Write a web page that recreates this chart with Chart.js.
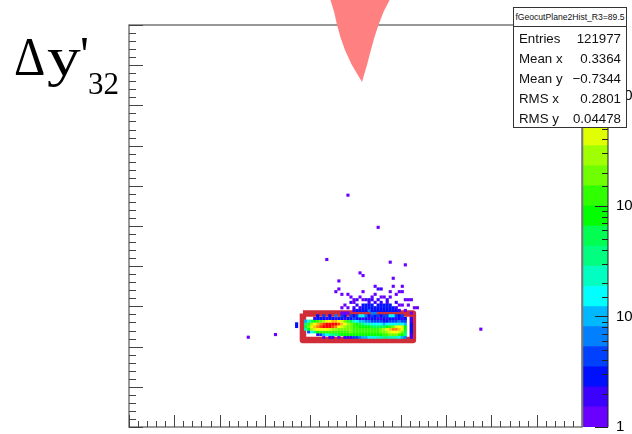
<!DOCTYPE html>
<html><head><meta charset="utf-8">
<script src="https://cdn.jsdelivr.net/npm/chart.js@4"></script>
<style>
html,body{margin:0;padding:0;background:#fff;width:632px;height:434px;overflow:hidden}
canvas{position:absolute;left:0;top:0}
.t{position:absolute;font-family:"Liberation Serif",serif;color:#000;line-height:1;white-space:pre}
#stats{position:absolute;left:513px;top:7px;width:112px;height:119px;background:#fff;border:1px solid #333;font-family:"Liberation Sans",sans-serif;color:#111}
#stats .h{height:18px;line-height:18px;border-bottom:1px solid #333;text-align:center;font-size:8.6px;white-space:nowrap}
#stats .r{position:absolute;left:5px;right:5px;height:20px;line-height:20px;font-size:13.3px;display:flex;justify-content:space-between}
</style></head><body>
<canvas id="main" width="632" height="434"></canvas>
<canvas id="bar" width="632" height="434"></canvas>
<span class="t" style="left:14px;top:30px;font-size:54px;transform:scaleX(.9);transform-origin:left">Δ</span>
<span class="t" style="left:47px;top:30px;font-size:54px;transform:scaleX(1.25);transform-origin:left">y</span>
<span class="t" style="left:80px;top:29px;font-size:50px">'</span>
<span class="t" style="left:88px;top:68px;font-size:31px">32</span>
<div id="stats"><div class="h">fGeocutPlane2Hist_R3=89.5</div>
<div class="r" style="top:21px"><span>Entries</span><span>121977</span></div>
<div class="r" style="top:41px"><span>Mean x</span><span>0.3364</span></div>
<div class="r" style="top:61px"><span>Mean y</span><span>−0.7344</span></div>
<div class="r" style="top:81px"><span>RMS x</span><span>0.2801</span></div>
<div class="r" style="top:101px"><span>RMS y</span><span>0.04478</span></div>
</div>
<script>
// Colour levels of the palette, bottom to top
const levelColors=['#6a00ff','#3c00ff','#0010ff','#0040ff','#0080ff','#00b8ff','#00ffff','#00ffc0','#00ff80','#00ff50','#00ff00','#30ff00','#70ff00','#a0ff00','#e0ff00','#ffff00','#ffc000','#ff8000','#ff4000','#ff0000'];
const levelEdges=[1,1.52,2.31,3.51,5.34,8.11,12.3,18.7,28.5,43.3,65.8,100,152,231,351,534,811,1233,1874,2849,4330];

// Dense core: histogram levels per row, columns start at bin 58 (-1 = empty)
const firstColumn=58;
const row41=[-1,-1,-1,-1,2,-1,3,-1,2,-1,4,-1,3,2,-1,3,2,3,6,6,4,2,3,2,3,2,3,3,6,6,3,2,3,-1,-1,-1];
const row40=[-1,-1,-1,1,2,2,2,1,2,2,1,2,2,1,2,2,3,2,2,1,2,1,2,2,1,1,2,1,2,2,1,2,1,2,-1,1];
const row39=[5,7,9,10,11,12,13,14,15,16,16,15,14,12,11,9,7,6,5,5,4,4,3,3,3,3,2,2,3,3,3,4,3,3,-1,1];
const row38=[8,11,13,15,16,17,18,19,19,19,19,18,16,15,13,12,11,10,9,8,7,7,6,6,6,6,5,6,6,6,6,7,6,5,-1,2];
const row37=[9,12,14,16,17,18,19,19,19,18,17,15,14,13,12,12,11,11,10,10,10,10,9,9,9,9,9,10,11,12,14,15,14,10,-1,2];
const row36=[7,10,13,14,15,15,15,15,14,13,13,12,12,12,12,12,11,11,11,11,11,11,11,11,11,12,13,14,16,17,17,16,14,10,-1,2];
const row35=[-1,3,6,8,10,11,11,11,11,11,11,11,11,11,11,12,11,11,11,11,11,11,11,11,11,12,12,13,14,15,15,14,12,9,-1,2];
const row34=[-1,-1,-1,-1,1,3,5,6,7,8,8,9,10,10,10,10,10,10,10,10,10,10,10,10,10,10,11,11,12,12,12,11,10,8,-1,1];
const row33=[-1,-1,-1,-1,-1,-1,0,-1,1,1,-1,0,-1,1,1,1,3,3,4,5,5,6,6,6,7,7,8,8,7,7,7,6,5,4,-1,1];
const coreRows=[[33,row33],[34,row34],[35,row35],[36,row36],[37,row37],[38,row38],[39,row39],[40,row40],[41,row41]];

// Sparse bins above and around the core: [bin x, bin y]
const purpleBins=[[72,86],[82,74],[65,62],[86,61],[91,60],[76,57],[77,56],[87,55],[69,54],[81,52],[87,52],[90,52],[69,51],[90,50],[86,50],[77,50],[68,50],[70,49],[72,49],[89,50],[88,49],[81,49],[73,48],[76,48],[80,48],[83,48],[84,48],[86,48],[93,47],[91,47],[92,47],[74,47],[77,47],[116,36],[39,33],[48,34],[74,46],[71,45],[70,44],[92,45],[94,44],[95,44],[89,45],[90,45],[72,44],[91,43],[70,42],[71,42],[72,42],[93,42]];
const indigoBins=[[82,51],[83,51],[75,47],[78,47],[79,47],[80,47],[82,47],[85,47],[85,46],[73,46],[79,46],[81,46],[83,46],[75,45],[76,44],[74,44],[74,43],[88,46],[88,44],[89,43]];
const blueBins=[[55,37],[55,38],[77,45],[78,45],[79,45],[80,45],[82,45],[83,45],[84,45],[85,45],[86,45],[77,44],[78,44],[79,44],[80,44],[81,44],[82,44],[83,44],[84,44],[85,44],[86,44],[87,44],[75,43],[76,43],[77,43],[78,43],[80,43],[81,43],[82,43],[83,43],[84,43],[85,43],[86,43],[87,43],[88,43]];
const azureBins=[[79,43],[80,42],[81,42]];

// Red frame around the core, bin coordinates
const frameX=[57.6,94.0,94.0,57.6,57.6];
const frameY=[42.35,42.35,32.46,32.46,42.35];
// Pink wedge at the top, bin coordinates
const wedgeX=[66.5,67.9,68.9,70.0,71.5,73.8,77.15,78.8,80.1,81.3,82.6,84.3,86.6];
const wedgeY=[160,154.9,150,145.5,140.7,135.1,128.7,135.1,140.7,145.5,150,154.9,160];

const corePoints=[],coreLevels=[];
coreRows.forEach(([iy,vals])=>vals.forEach((v,j)=>{if(v>=0){corePoints.push({x:firstColumn+j+.5,y:iy+.5});coreLevels.push(levelColors[v]);}}));
const bins=a=>a.map(([x,y])=>({x:x+.5,y:y+.5}));
const cell={type:'scatter',pointStyle:'rect',pointRadius:2.2,pointBorderWidth:0,pointHoverRadius:2.2,showLine:false};

const insideTicks={id:'insideTicks',
 beforeDatasetsDraw(c){
  const {ctx,chartArea:a,scales:{x,y}}=c;
  ctx.save();ctx.strokeStyle='#777';ctx.lineWidth=1.5;
  ctx.strokeRect(a.left,a.top,a.right-a.left,a.bottom-a.top);
  ctx.strokeStyle='#444';ctx.lineWidth=1;
  ctx.beginPath();
  x.ticks.forEach(t=>{const p=Math.round(x.getPixelForValue(t.value))+.5;const l=t.value%15===0?12:6;ctx.moveTo(p,a.bottom);ctx.lineTo(p,a.bottom-l);});
  y.ticks.forEach(t=>{const p=Math.round(y.getPixelForValue(t.value))+.5;const l=t.value%15===0?14:7;ctx.moveTo(a.left,p);ctx.lineTo(a.left+l,p);});
  ctx.stroke();ctx.restore();
 },
 afterDatasetsDraw(c){
  const {ctx,scales:{x,y}}=c;
  ctx.save();ctx.fillStyle='#ff8080';ctx.beginPath();
  wedgeX.forEach((v,i)=>{const px=x.getPixelForValue(v),py=y.getPixelForValue(wedgeY[i]);i?ctx.lineTo(px,py):ctx.moveTo(px,py);});
  ctx.closePath();ctx.fill();ctx.restore();
 }};

new Chart(document.getElementById('main'),{
 data:{datasets:[
  {...cell,label:'purple',data:bins(purpleBins),backgroundColor:levelColors[0]},
  {...cell,label:'indigo',data:bins(indigoBins),backgroundColor:levelColors[1]},
  {...cell,label:'blue',data:bins(blueBins),backgroundColor:levelColors[2]},
  {...cell,label:'azure',data:bins(azureBins),backgroundColor:levelColors[4]},
  {...cell,label:'core',data:corePoints,backgroundColor:coreLevels},
  {type:'scatter',label:'frame',data:frameX.map((v,i)=>({x:v,y:frameY[i]})),showLine:true,pointRadius:0,borderColor:'rgba(204,22,34,0.9)',borderWidth:6.5,borderJoinStyle:'round',fill:false,tension:0}
 ]},
 options:{responsive:false,animation:false,events:[],
  layout:{padding:{left:129,right:50,top:25,bottom:7}},
  plugins:{legend:{display:false},tooltip:{enabled:false}},
  scales:{
   x:{type:'linear',min:0,max:150,grid:{display:false,drawTicks:false},border:{display:false},ticks:{display:false,stepSize:3,autoSkip:false,maxTicksLimit:60}},
   y:{type:'linear',min:0,max:150,grid:{display:false,drawTicks:false},border:{display:false},ticks:{display:false,stepSize:3,autoSkip:false,maxTicksLimit:60}}
  }},
 plugins:[insideTicks]
});

const barTicks={id:'barTicks',afterDatasetsDraw(c){
  const {ctx,chartArea:a,scales:{y}}=c;
  ctx.save();ctx.strokeStyle='#777';ctx.lineWidth=1.5;
  ctx.beginPath();ctx.moveTo(a.left-.5,a.top);ctx.lineTo(a.left-.5,a.bottom);ctx.stroke();
  ctx.strokeStyle='#222';ctx.lineWidth=1;ctx.beginPath();
  ctx.moveTo(a.right,a.top);ctx.lineTo(a.right,a.bottom);
  y.ticks.forEach(t=>{const p=Math.round(y.getPixelForValue(t.value))+.5;const m=[1,10,100,1000].includes(t.value);ctx.moveTo(a.right,p);ctx.lineTo(a.right-(m?13:6),p);});
  ctx.stroke();ctx.restore();
}};
new Chart(document.getElementById('bar'),{
 type:'bar',
 data:{labels:['z'],datasets:levelColors.map((col,i)=>({data:[[levelEdges[i],levelEdges[i+1]]],backgroundColor:col,borderWidth:0,barPercentage:1,categoryPercentage:1,grouped:false}))},
 options:{responsive:false,animation:false,events:[],
  layout:{padding:{left:583,right:0,top:25,bottom:7}},
  plugins:{legend:{display:false},tooltip:{enabled:false}},
  scales:{
   x:{display:false},
   y:{type:'logarithmic',position:'right',min:1,max:4330,grid:{display:false,drawTicks:false},border:{display:false},
      afterFit(s){s.width=24;s.paddingTop=0;s.paddingBottom=0;},
      ticks:{autoSkip:false,padding:8,color:'#000',font:{family:'"Liberation Sans"',size:15},
        callback(v){return v===1?'1':(v===10||v===100||v===1000?'10':'');}}}
  }},
 plugins:[barTicks]
});
</script>
</body></html>
